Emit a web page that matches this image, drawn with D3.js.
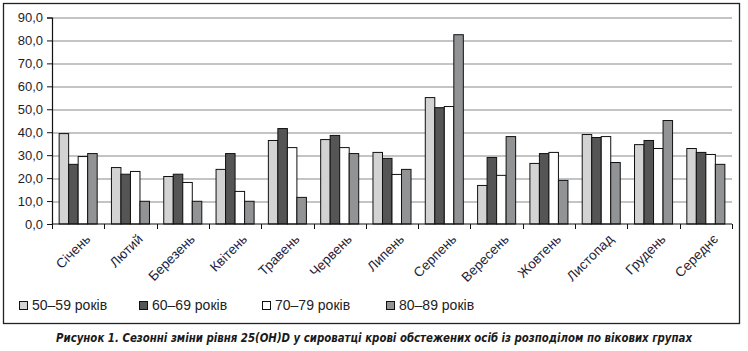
<!DOCTYPE html>
<html>
<head>
<meta charset="utf-8">
<script src="https://cdn.jsdelivr.net/npm/d3@7"></script>
<style>
  body { margin: 0; background: #fff; }
  svg { display: block; }
  text { font-family: Arial, "Liberation Sans", sans-serif; }
</style>
</head>
<body>
<div id="chart"></div>
<script>
// Categories (months + average)
const months = ['Січень', 'Лютий', 'Березень', 'Квітень', 'Травень', 'Червень',
  'Липень', 'Серпень', 'Вересень', 'Жовтень', 'Листопад', 'Грудень', 'Середнє'];

const seriesNames = ['50–59 років', '60–69 років', '70–79 років', '80–89 років'];
const seriesColors = ['#d3d3d3', '#555555', '#ffffff', '#929395'];

// Values
const age50 = [39.4, 24.6, 20.7, 23.8, 36.4, 36.8, 31.2, 55.1, 16.8, 26.4, 39.0, 34.6, 32.9];
const age60 = [26.0, 21.7, 21.7, 30.7, 41.6, 38.6, 28.6, 50.7, 29.0, 30.7, 37.7, 36.4, 31.2];
const age70 = [29.4, 22.9, 18.1, 14.2, 33.3, 33.3, 21.6, 51.2, 21.2, 31.2, 38.1, 32.9, 30.3];
const age80 = [30.7, 9.9, 9.9, 9.9, 11.6, 30.7, 23.8, 82.5, 38.1, 19.0, 26.8, 45.1, 26.0];

const yTicks = [0, 10, 20, 30, 40, 50, 60, 70, 80, 90];
const caption = 'Рисунок 1. Сезонні зміни рівня 25(OH)D у сироватці крові обстежених осіб із розподілом по вікових групах';

const series = [age50, age60, age70, age80];

const W = 748, H = 351;
const margin = { top: 17.5, left: 52, right: 16, bottom: 127 };
const plotW = W - margin.left - margin.right;
const plotH = H - margin.top - margin.bottom;

const svg = d3.select('#chart').append('svg')
  .attr('width', W)
  .attr('height', H);

// outer frame
svg.append('rect')
  .attr('x', 3.5).attr('y', 3.5)
  .attr('width', 736).attr('height', 320)
  .attr('fill', 'none')
  .attr('stroke', '#222')
  .attr('stroke-width', 1.3);

const g = svg.append('g')
  .attr('transform', `translate(${margin.left},${margin.top})`);

const x = d3.scaleBand().domain(months).range([0, plotW]);
const y = d3.scaleLinear().domain([0, 90]).range([plotH, 0]);

// bar width: gap of 150% of a bar
const barW = x.bandwidth() / 5.5;
const x1 = d3.scaleBand().domain(d3.range(4))
  .range([barW * 0.75, barW * 4.75]);

// gridlines
g.append('g')
  .selectAll('line')
  .data(yTicks.filter(d => d > 0))
  .join('line')
  .attr('x1', 0).attr('x2', plotW)
  .attr('y1', d => Math.round(y(d)) + 0.5)
  .attr('y2', d => Math.round(y(d)) + 0.5)
  .attr('stroke', '#8a8a8a')
  .attr('stroke-width', 1.2);

// bars
const groups = g.append('g')
  .selectAll('g')
  .data(months)
  .join('g')
  .attr('transform', d => `translate(${x(d)},0)`);

groups.selectAll('rect')
  .data((m, i) => series.map((s, k) => ({ k, v: s[i] })))
  .join('rect')
  .attr('x', d => x1(d.k))
  .attr('y', d => y(d.v))
  .attr('width', x1.bandwidth())
  .attr('height', d => plotH - y(d.v))
  .attr('fill', d => seriesColors[d.k])
  .attr('stroke', '#111')
  .attr('stroke-width', 1);

// y axis
const yAxis = g.append('g')
  .call(d3.axisLeft(y).tickValues(yTicks).tickSize(5).tickPadding(4)
    .tickFormat(d => d3.format('.1f')(d).replace('.', ',')));
yAxis.select('.domain').attr('stroke', '#111').attr('stroke-width', 1.2);
yAxis.selectAll('line').attr('stroke', '#111');
yAxis.selectAll('text')
  .style('font-size', '13px')
  .attr('fill', '#1e1e2a');

// x axis (ticks at band edges)
const xAxisG = g.append('g').attr('transform', `translate(0,${plotH})`);
xAxisG.append('line')
  .attr('x1', 0).attr('x2', plotW)
  .attr('stroke', '#111').attr('stroke-width', 1.2);
xAxisG.selectAll('.edge')
  .data(months.map(m => x(m)).concat([plotW]))
  .join('line')
  .attr('class', 'edge')
  .attr('x1', d => Math.round(d) + 0.5).attr('x2', d => Math.round(d) + 0.5)
  .attr('y1', 0).attr('y2', 5)
  .attr('stroke', '#111');

xAxisG.selectAll('.lbl')
  .data(months)
  .join('text')
  .attr('class', 'lbl')
  .attr('transform', d => `translate(${x(d) + x.bandwidth() / 2 + 13},${16}) rotate(-45)`)
  .attr('text-anchor', 'end')
  .style('font-size', '13.5px')
  .attr('fill', '#1e1e3a')
  .text(d => d);

// legend
const legendX = [19, 139, 262, 386];
const legend = svg.append('g').attr('transform', 'translate(0,301)');
const items = legend.selectAll('g')
  .data(seriesNames)
  .join('g')
  .attr('transform', (d, i) => `translate(${legendX[i]},0)`);
items.append('rect')
  .attr('x', 0.5).attr('y', 0.5)
  .attr('width', 8).attr('height', 8)
  .attr('fill', (d, i) => seriesColors[i])
  .attr('stroke', '#111');
items.append('text')
  .attr('x', 13).attr('y', 9)
  .style('font-size', '14px')
  .attr('fill', '#222')
  .text(d => d);

// caption
svg.append('text')
  .attr('x', 374).attr('y', 342)
  .attr('text-anchor', 'middle')
  .attr('textLength', 636)
  .attr('lengthAdjust', 'spacingAndGlyphs')
  .style('font-family', '"Liberation Sans Narrow", "DejaVu Sans Condensed", Arial, sans-serif')
  .style('font-size', '12px')
  .style('font-weight', 'bold')
  .style('font-style', 'italic')
  .attr('fill', '#1a1a1a')
  .text(caption);
</script>
</body>
</html>
